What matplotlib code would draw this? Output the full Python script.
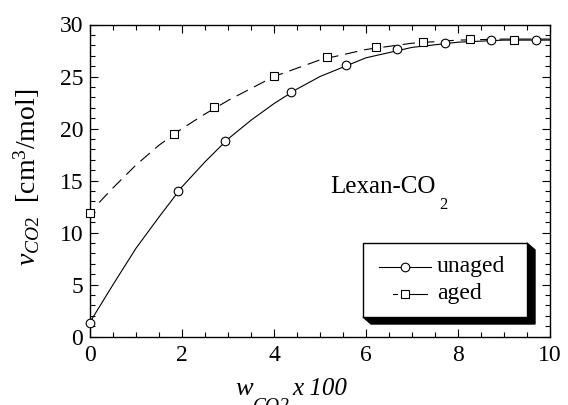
import matplotlib
matplotlib.use("Agg")
import matplotlib.pyplot as plt
from matplotlib.lines import Line2D
from matplotlib.patches import Rectangle, Polygon
from matplotlib.ticker import MultipleLocator

plt.rcParams['font.family'] = ['Liberation Serif', 'DejaVu Serif']
plt.rcParams['mathtext.fontset'] = 'custom'
plt.rcParams['mathtext.rm'] = 'Liberation Serif'
plt.rcParams['mathtext.it'] = 'Liberation Serif:italic'
plt.rcParams['mathtext.bf'] = 'Liberation Serif:bold'
plt.rcParams['lines.scale_dashes'] = False

# ---- data ----
unaged_x = [0.0, 1.92, 2.93, 4.37, 5.57, 6.68, 7.72, 8.72, 9.70]
unaged_y = [1.3, 14.0, 18.8, 23.5, 26.1, 27.6, 28.2, 28.5, 28.5]
aged_x = [0.0, 1.82, 2.70, 4.00, 5.16, 6.22, 7.23, 8.25, 9.22]
aged_y = [11.9, 19.5, 22.1, 25.05, 26.85, 27.8, 28.35, 28.6, 28.5]

# fitted curves
unaged_fit_x = [0.0, 0.5, 1.0, 1.5, 2.0, 2.5, 3.0, 3.5, 4.0, 4.5, 5.0, 6.0, 7.0, 8.0, 9.0, 10.0]
unaged_fit_y = [1.4, 5.0, 8.5, 11.5, 14.4, 16.8, 19.0, 20.8, 22.4, 23.8, 25.0, 26.8, 27.8, 28.3, 28.5, 28.5]
aged_fit_x = [0.2, 0.5, 1.0, 1.5, 2.0, 2.5, 3.0, 4.0, 5.0, 6.0, 7.0, 8.0, 9.0, 10.0]
aged_fit_y = [12.9, 14.3, 16.5, 18.4, 20.0, 21.4, 22.7, 25.0, 26.6, 27.6, 28.2, 28.5, 28.6, 28.6]

x_ticks = [0, 2, 4, 6, 8, 10]
y_ticks = [0, 5, 10, 15, 20, 25, 30]
series_labels = ['unaged', 'aged']

W, H = 568, 405
fig = plt.figure(figsize=(W / 100, H / 100), dpi=100)

def fx(px):
    return px / W

def fy(py):
    return 1 - py / H

ax = fig.add_axes([fx(90), fy(336.7), fx(550) - fx(90), fy(24.5) - fy(336.7)])
ax.set_xlim(0, 10)
ax.set_ylim(0, 30)
ax.set_xticks(x_ticks)
ax.set_yticks(y_ticks)
ax.xaxis.set_minor_locator(MultipleLocator(0.5))
ax.yaxis.set_minor_locator(MultipleLocator(1))
ax.tick_params(which='both', direction='in', top=True, right=True, width=0.8,
               labelsize=17)
ax.tick_params(axis='x', pad=6)
ax.tick_params(axis='y', pad=5)
ax.tick_params(which='major', length=6)
ax.tick_params(which='minor', length=3.5)
for s in ax.spines.values():
    s.set_linewidth(1.0)

lw = 0.8
ax.plot(unaged_fit_x, unaged_fit_y, color='black', lw=lw, clip_on=False)
ax.plot(aged_fit_x, aged_fit_y, color='black', lw=lw, dashes=[9, 5], clip_on=False)
ax.plot(unaged_x, unaged_y, 'o', ms=6.2, mfc='white', mec='black', mew=0.8, clip_on=False, zorder=3)
ax.plot(aged_x, aged_y, 's', ms=6.0, mfc='white', mec='black', mew=0.8, clip_on=False, zorder=3)

# annotation
fig.text(fx(330), fy(193), 'Lexan-CO', fontsize=18, ha='left', va='baseline')
fig.text(fx(439), fy(209), '2', fontsize=12, ha='left', va='baseline')

# y axis label
fig.text(fx(27), fy(177), r'$\mathit{v}_{\mathit{CO2}}$  [cm$^{3}$/mol]', rotation=90,
         fontsize=20, ha='center', va='center')
# x axis label (pieces, subscript runs below the figure edge as in the reference)
fig.text(fx(235), fy(395), 'w', fontsize=19, style='italic', ha='left', va='baseline')
fig.text(fx(253), fy(411), 'CO2', fontsize=14, style='italic', ha='left', va='baseline')
fig.text(fx(292), fy(395), 'x 100', fontsize=18, style='italic', ha='left', va='baseline')

# legend box with 3D shadow
x0, x1 = fx(363), fx(527)
y0, y1 = fy(317), fy(243)
dx, dy = 8 / W, 7 / H
shadow = Polygon([(x0, y0), (x0 + dx, y0 - dy), (x1 + dx, y0 - dy), (x1 + dx, y1 - dy),
                  (x1, y1), (x1, y0)], closed=True, facecolor='black', edgecolor='black',
                 transform=fig.transFigure, zorder=5)
fig.add_artist(shadow)
box = Rectangle((x0, y0), x1 - x0, y1 - y0, facecolor='white', edgecolor='black', lw=1.0,
                transform=fig.transFigure, zorder=6)
fig.add_artist(box)

yl1, yl2 = fy(266.7), fy(294)
fig.add_artist(Line2D([fx(379), fx(431)], [yl1, yl1], color='black', lw=lw,
                      transform=fig.transFigure, zorder=7))
fig.add_artist(Line2D([fx(404.5)], [yl1], marker='o', ms=6.2, mfc='white', mec='black',
                      mew=0.8, transform=fig.transFigure, zorder=8))
fig.add_artist(Line2D([fx(392.5), fx(397)], [yl2, yl2], color='black', lw=lw,
                      transform=fig.transFigure, zorder=7))
fig.add_artist(Line2D([fx(408), fx(427)], [yl2, yl2], color='black', lw=lw,
                      transform=fig.transFigure, zorder=7))
fig.add_artist(Line2D([fx(405)], [yl2], marker='s', ms=6.0, mfc='white', mec='black',
                      mew=0.8, transform=fig.transFigure, zorder=8))
fig.text(fx(437), yl1, series_labels[0], fontsize=17, ha='left', va='center', zorder=9)
fig.text(fx(437), yl2, series_labels[1], fontsize=17, ha='left', va='center', zorder=9)

fig.savefig('out.png', dpi=100)
